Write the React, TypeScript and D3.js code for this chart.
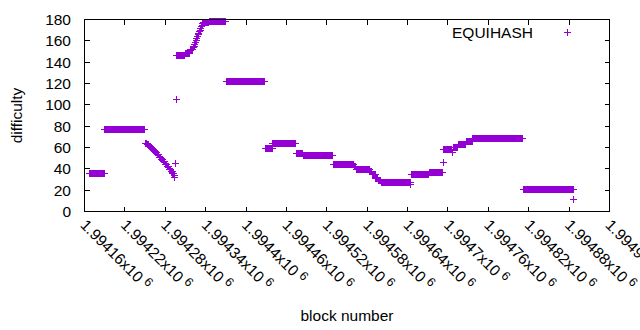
import React, { useEffect, useRef } from 'react';
import * as d3 from 'd3';

// difficulty per block, stored as runs: first block, last block, difficulty
const runFirst = [
  1994168, 1994190, 1994250, 1994253, 1994256, 1994259, 1994262, 1994265, 1994268, 1994271,
  1994274, 1994277, 1994280, 1994283, 1994286, 1994289, 1994291, 1994293, 1994294, 1994295,
  1994296, 1994297, 1994310, 1994317, 1994322, 1994323, 1994324, 1994325, 1994326, 1994327,
  1994328, 1994329, 1994330, 1994331, 1994332, 1994333, 1994334, 1994335, 1994336, 1994337,
  1994345, 1994371, 1994429, 1994440, 1994475, 1994485, 1994530, 1994561, 1994564, 1994584,
  1994588, 1994593, 1994597, 1994601, 1994645, 1994646, 1994672, 1994693, 1994694, 1994706,
  1994708, 1994715, 1994727, 1994737, 1994812, 1994887,
];
const runLast = [
  1994189, 1994249, 1994252, 1994255, 1994258, 1994261, 1994264, 1994267, 1994270, 1994273,
  1994276, 1994279, 1994282, 1994285, 1994288, 1994290, 1994292, 1994293, 1994294, 1994295,
  1994296, 1994309, 1994316, 1994321, 1994322, 1994323, 1994324, 1994325, 1994326, 1994327,
  1994328, 1994329, 1994330, 1994331, 1994332, 1994333, 1994334, 1994335, 1994336, 1994344,
  1994370, 1994428, 1994439, 1994474, 1994484, 1994529, 1994560, 1994563, 1994583, 1994587,
  1994592, 1994596, 1994600, 1994644, 1994645, 1994671, 1994692, 1994693, 1994705, 1994707,
  1994714, 1994726, 1994736, 1994811, 1994886, 1994887,
];
const runDifficulty = [
  35.3, 76.5, 64, 62.5, 60.5, 58.8, 57, 55, 53, 51,
  48.5, 46.5, 44, 42, 39.5, 37.5, 35.5, 33.5, 32, 44.7,
  104.7, 146, 148.5, 151.5, 153.5, 155, 156.5, 158.5, 160.5, 162,
  164, 165.5, 167, 168.5, 170, 171.5, 173, 174.5, 176, 176.8,
  178, 121.5, 58.6, 64.2, 54, 52.1, 43.9, 42, 39.3, 37.5,
  34.5, 31, 29, 26.9, 25.3, 34.4, 36.5, 45.6, 57.7, 55.5,
  60.3, 62.4, 65.7, 68.3, 21, 11,
];

const xTickValues = [
  1994160, 1994220, 1994280, 1994340, 1994400, 1994460, 1994520,
  1994580, 1994640, 1994700, 1994760, 1994820, 1994880, 1994940,
];
const xTickLabels = [
  '1.99416', '1.99422', '1.99428', '1.99434', '1.9944', '1.99446', '1.99452',
  '1.99458', '1.99464', '1.9947', '1.99476', '1.99482', '1.99488', '1.99494',
];
const yTickValues = [0, 20, 40, 60, 80, 100, 120, 140, 160, 180];
const seriesName = 'EQUIHASH';

const App = () => {
  const svgRef = useRef<SVGSVGElement>(null);

  useEffect(() => {
    document.body.style.margin = '0';
    const svg = d3.select(svgRef.current);
    svg.selectAll('*').remove();

    const font = "'Liberation Sans', Arial, sans-serif";
    const fs = 15.5;
    const color = '#9400d3';
    const left = 84.5, right = 609.5, top = 19.5, bottom = 211.5;
    const tick = 5;

    const x = d3.scaleLinear().domain([1994160, 1994940]).range([left, right]);
    const y = d3.scaleLinear().domain([0, 180]).range([bottom, top]);

    // expand the runs into one point per block
    const points: [number, number][] = [];
    runFirst.forEach((first, i) => {
      for (let b = first; b <= runLast[i]; b++) points.push([b, runDifficulty[i]]);
    });

    const g = svg.append('g').attr('shape-rendering', 'crispEdges');

    // ticks
    const tk = g.append('g').attr('stroke', '#000').attr('stroke-width', 1);
    yTickValues.forEach(v => {
      const yy = Math.round(y(v) - 0.5) + 0.5;
      tk.append('line').attr('x1', left).attr('x2', left + tick).attr('y1', yy).attr('y2', yy);
      tk.append('line').attr('x1', right).attr('x2', right - tick).attr('y1', yy).attr('y2', yy);
    });
    xTickValues.forEach(v => {
      const xx = Math.round(x(v) - 0.5) + 0.5;
      tk.append('line').attr('x1', xx).attr('x2', xx).attr('y1', bottom).attr('y2', bottom - tick);
      tk.append('line').attr('x1', xx).attr('x2', xx).attr('y1', top).attr('y2', top + tick);
    });

    // the + markers
    const plus = (cx: number, cy: number) => {
      const px = Math.floor(cx), py = Math.floor(cy);
      return `M${px - 3},${py + 0.5}H${px + 4}M${px + 0.5},${py - 3}V${py + 4}`;
    };
    g.append('path')
      .attr('d', points.map(([b, d]) => plus(x(b), y(d))).join(''))
      .attr('fill', 'none')
      .attr('stroke', color)
      .attr('stroke-width', 1);

    // border
    g.append('rect')
      .attr('x', left).attr('y', top)
      .attr('width', right - left).attr('height', bottom - top)
      .attr('fill', 'none').attr('stroke', '#000');

    // y tick labels
    svg.append('g')
      .selectAll('text')
      .data(yTickValues)
      .enter()
      .append('text')
      .attr('x', 71)
      .attr('y', d => y(d) + 5.5)
      .attr('text-anchor', 'end')
      .attr('font-family', font)
      .attr('font-size', fs)
      .text(d => d);

    // x tick labels, rotated
    const xl = svg.append('g').attr('font-family', font).attr('font-size', fs);
    xTickValues.forEach((v, i) => {
      const tx = x(v) - 5, ty = 226;
      const t = xl.append('text')
        .attr('x', tx).attr('y', ty)
        .attr('transform', `rotate(45,${tx},${ty})`);
      t.append('tspan').text(`${xTickLabels[i]}x10`);
      t.append('tspan').attr('dx', 4).attr('dy', -5).attr('font-size', 12.5).text('6');
    });

    // axis titles
    svg.append('text')
      .attr('transform', `translate(22,${(top + bottom) / 2}) rotate(-90)`)
      .attr('text-anchor', 'middle')
      .attr('font-family', font).attr('font-size', fs)
      .text('difficulty');
    svg.append('text')
      .attr('x', (left + right) / 2).attr('y', 321)
      .attr('text-anchor', 'middle')
      .attr('font-family', font).attr('font-size', fs)
      .text('block number');

    // legend
    svg.append('text')
      .attr('x', 533).attr('y', 37.5)
      .attr('text-anchor', 'end')
      .attr('font-family', font).attr('font-size', fs)
      .text(seriesName);
    svg.append('path')
      .attr('d', plus(567.5, 32.5))
      .attr('stroke', color).attr('fill', 'none')
      .attr('shape-rendering', 'crispEdges');
  }, []);

  return <svg ref={svgRef} width={640} height={330} style={{ display: 'block' }} />;
};

export default App;
